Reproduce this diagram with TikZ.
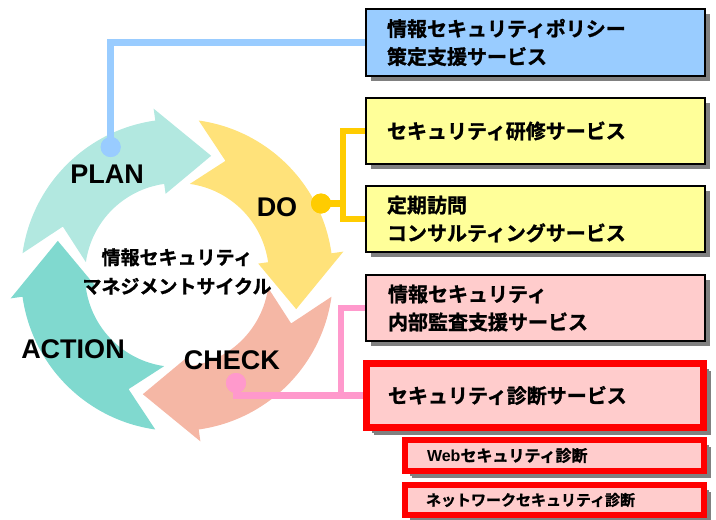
\documentclass[tikz,border=0pt]{standalone}
\usepackage{fontspec}
\usetikzlibrary{shadows}
\newfontfamily\jp{Noto Sans CJK JP}[BoldFont={Noto Sans CJK JP Bold},BoldFeatures={FakeBold=1.2}]
\newfontfamily\lat{Liberation Sans}
\definecolor{cPlan}{HTML}{B2E8E0}
\definecolor{cDo}{HTML}{FFE27A}
\definecolor{cCheck}{HTML}{F5B7A5}
\definecolor{cAct}{HTML}{80D9CF}
\definecolor{lBlue}{HTML}{99CCFF}
\definecolor{lYel}{HTML}{FFCC00}
\definecolor{lPink}{HTML}{FF99CC}
\definecolor{bBlue}{HTML}{99CCFF}
\definecolor{bYel}{HTML}{FFFF99}
\definecolor{bPink}{HTML}{FFCCCC}
\definecolor{bRed}{HTML}{FF0000}
\definecolor{shgray}{HTML}{808080}
\newcommand\ringarrow[2]{%
  \fill[#2] (#1:156pt) arc[start angle=#1, end angle={#1-74}, radius=156pt]
    -- ({#1-74}:168pt) -- ({#1-98}:124pt) -- ({#1-74}:82pt) -- ({#1-74}:92pt)
    arc[start angle={#1-74}, end angle=#1, radius=92pt]
    -- ({#1-15}:124pt) -- cycle;}
\begin{document}
\begin{tikzpicture}[x=1pt,y=-1pt,
  lbl/.style={font=\lat\bfseries\fontsize{27}{27}\selectfont, inner sep=0pt},
  box/.style={draw=black, line width=2.5pt, rectangle, minimum width=339pt,
    minimum height=67pt, inner xsep=21pt, inner ysep=0pt, text width=297pt,
    align=left, font=\jp\bfseries\fontsize{20}{28}\selectfont,
    drop shadow={shadow xshift=5pt, shadow yshift=-5pt, fill=shgray, opacity=1}},
  redbox/.style={box, draw=bRed, fill=bPink,
    drop shadow={shadow xshift=7pt, shadow yshift=-7pt, fill=shgray, opacity=1}},
  conn/.style={line width=6.5pt},
  dot/.style={circle, inner sep=0pt, minimum size=20pt}]
\useasboundingbox (0,0) rectangle (716,520);
% cycle ring
\begin{scope}[shift={(177,275)}]
  \ringarrow{172}{cPlan}
  \ringarrow{82}{cDo}
  \ringarrow{-8}{cCheck}
  \ringarrow{-98}{cAct}
\end{scope}
\node[lbl] (plan) at (107,174) {PLAN};
\node[lbl] (do) at (277,207) {DO};
\node[lbl] (action) at (73,349) {ACTION};
\node[lbl] (check) at (232,360) {CHECK};
\node[font=\jp\bfseries\fontsize{19}{29}\selectfont, align=center, inner sep=0pt] (cycle) at (177,271.5)
  {情報セキュリティ\\マネジメントサイクル};
% boxes
\node[box, fill=bBlue] (b1) at (535.5,42.5) {情報セキュリティポリシー\\策定支援サービス};
\node[box, fill=bYel, minimum height=66pt] (b2) at (535.5,131) {セキュリティ研修サービス};
\node[box, fill=bYel, minimum height=66pt] (b3) at (535.5,219) {定期訪問\\コンサルティングサービス};
\node[box, fill=bPink, minimum height=66pt, inner xsep=22pt, text width=295pt] (b4) at (535.5,308) {情報セキュリティ\\内部監査支援サービス};
\node[redbox, line width=7pt, minimum width=337pt, minimum height=64pt, inner xsep=21.5pt, text width=294pt] (b5) at (535,395.5) {セキュリティ診断サービス};
\node[redbox, line width=5.5pt, minimum width=299pt, minimum height=31pt, inner xsep=22pt, text width=255pt,
  font=\jp\bfseries\fontsize{16}{16}\selectfont] (b6) at (554.5,455.5) {{\lat\bfseries Web}セキュリティ診断};
\node[redbox, line width=5.5pt, minimum width=299pt, minimum height=30pt, inner xsep=21pt, text width=257pt,
  font=\jp\bfseries\fontsize{15}{15}\selectfont] (b7) at (554.5,500) {ネットワークセキュリティ診断};
% connectors
\node[dot, fill=lBlue] (dp) at (110.7,147) {};
\node[dot, fill=lYel] (dd) at (321,203.5) {};
\node[dot, fill=lPink] (dc) at (236,383) {};
\coordinate (yj) at (343,203.5);
\coordinate (pj) at (341,395.5);
\draw[conn, lBlue] (dp.center) |- (b1.west);
\draw[conn, lYel] (dd.center) -- (yj);
\draw[conn, lYel] (b2.west) -| (yj) |- (b3.west);
\draw[conn, lPink] (dc.center) |- (b5.west);
\draw[conn, lPink] (b4.west) -| (pj);
\node[dot, fill=lBlue] at (dp) {};
\node[dot, fill=lYel] at (dd) {};
\node[dot, fill=lPink] at (dc) {};
\end{tikzpicture}
\end{document}
